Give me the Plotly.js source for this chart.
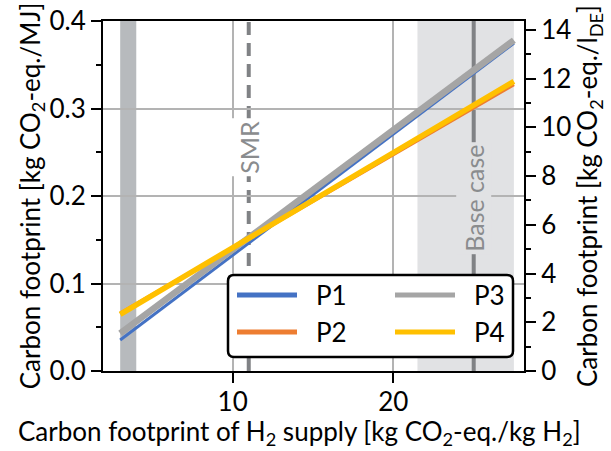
<!DOCTYPE html>
<html>
<head>
<meta charset="utf-8">
<script src="https://cdn.plot.ly/plotly-3.0.1.min.js"></script>
<style>html,body{margin:0;padding:0;background:#fff;}#chart{width:611px;height:451px;}</style>
</head>
<body>
<div id="chart"></div>
<script>
// ---- data ----
const h2Supply = [3, 27.5];                 // kg CO2-eq./kg H2
const seriesNames = ['P1', 'P2', 'P3', 'P4'];
const p1 = [0.0354, 0.3745];                // kg CO2-eq./MJ
const p2 = [0.066, 0.3275];
const p3 = [0.043, 0.378];
const p4 = [0.0648, 0.331];
const seriesColors = ['#4472C4', '#ED7D31', '#A5A5A5', '#FFC000'];
const seriesWidths = [3, 3.5, 6.5, 5.5];
const smrValue = 11;
const baseCaseValue = 25;
const lowBand = [3, 4];
const baseBand = [21.5, 27.5];
const mjPerLitreDiesel = 35.9;
const xTicks = [10, 20];
const yTicks = [0, 0.1, 0.2, 0.3, 0.4];
const y2Ticks = [0, 2, 4, 6, 8, 10, 12, 14];
const xTitle = 'Carbon footprint of H<sub>2</sub> supply [kg CO<sub>2</sub>-eq./kg H<sub>2</sub>]';
const yTitle = 'Carbon footprint [kg CO<sub>2</sub>-eq./MJ]';
const y2Title = 'Carbon footprint [kg CO<sub>2</sub>-eq./l<sub>DE</sub>]';

const yMax = 0.4;
const FONT = 'Lato, "Open Sans", sans-serif';
const FS = 26;

const allSeries = [p1, p2, p3, p4];
const traces = allSeries.map((s, i) => ({
  type: 'scatter', mode: 'lines', x: h2Supply, y: s, name: seriesNames[i],
  line: {color: seriesColors[i], width: seriesWidths[i]}, showlegend: false, hoverinfo: 'skip'
}));
traces.push({type: 'scatter', mode: 'lines', x: h2Supply, y: p1.map(v => v * mjPerLitreDiesel),
  yaxis: 'y2', line: {width: 0, color: 'rgba(0,0,0,0)'}, showlegend: false, hoverinfo: 'skip'});

// legend (manual, two columns: P1,P3 / P2,P4)
const L = {x0: 228, x1: 513, y0: 275, y1: 357};
const plotL = 103, plotR = 524, plotT = 21, plotB = 371;
const px = v => (v - plotL) / (plotR - plotL);
const py = v => (plotB - v) / (plotB - plotT);
const rx = 6 / (plotR - plotL), ry = 6 / (plotB - plotT);
const bx0 = px(L.x0), bx1 = px(L.x1), by0 = py(L.y1), by1 = py(L.y0);
const boxPath = `M${bx0 + rx},${by0} L${bx1 - rx},${by0} Q${bx1},${by0} ${bx1},${by0 + ry} L${bx1},${by1 - ry} Q${bx1},${by1} ${bx1 - rx},${by1} L${bx0 + rx},${by1} Q${bx0},${by1} ${bx0},${by1 - ry} L${bx0},${by0 + ry} Q${bx0},${by0} ${bx0 + rx},${by0} Z`;

const legendOrder = [0, 2, 1, 3];
const legendPos = [
  {lx0: 237, lx1: 297, tx: 314, y: 295},
  {lx0: 395, lx1: 455, tx: 472, y: 295},
  {lx0: 237, lx1: 297, tx: 314, y: 332},
  {lx0: 395, lx1: 455, tx: 472, y: 332}
];

const shapes = [
  {type: 'rect', xref: 'x', yref: 'paper', x0: lowBand[0], x1: lowBand[1], y0: 0, y1: 1,
   fillcolor: '#b7babd', line: {width: 0}, layer: 'below'},
  {type: 'rect', xref: 'x', yref: 'paper', x0: baseBand[0], x1: baseBand[1], y0: 0, y1: 1,
   fillcolor: '#e1e2e4', line: {width: 0}, layer: 'below'},
  {type: 'line', xref: 'x', yref: 'paper', x0: smrValue, x1: smrValue, y0: 0, y1: 1,
   line: {color: '#808285', width: 4, dash: '13px,8px'}, layer: 'between'},
  {type: 'line', xref: 'x', yref: 'paper', x0: baseCaseValue, x1: baseCaseValue, y0: 0, y1: 1,
   line: {color: '#808285', width: 4}, layer: 'between'},
  {type: 'path', xref: 'paper', yref: 'paper', path: boxPath, fillcolor: '#ffffff',
   line: {color: '#000000', width: 2.5}, layer: 'above'}
];
const annotations = [
  {xref: 'x', yref: 'paper', x: smrValue, y: py(147), text: 'SMR', showarrow: false, textangle: -90,
   font: {family: FONT, size: 25, color: '#8a8c8e'}, bgcolor: '#ffffff', borderpad: 2},
  {xref: 'x', yref: 'paper', x: baseCaseValue, y: py(198), text: 'Base case', showarrow: false, textangle: -90,
   font: {family: FONT, size: 25, color: '#8a8c8e'}, bgcolor: '#e1e2e4', borderpad: 2},
  {xref: 'paper', yref: 'paper', x: px(299), y: py(433), xanchor: 'center', yanchor: 'middle',
   text: xTitle, showarrow: false, font: {family: FONT, size: FS, color: '#000'}}
];
legendOrder.forEach((si, k) => {
  const p = legendPos[k];
  shapes.push({type: 'line', xref: 'paper', yref: 'paper', x0: px(p.lx0), x1: px(p.lx1), y0: py(p.y), y1: py(p.y),
    line: {color: seriesColors[si], width: 5}, layer: 'above'});
  annotations.push({xref: 'paper', yref: 'paper', x: px(p.tx), y: py(p.y), xanchor: 'left', yanchor: 'middle',
    text: seriesNames[si], showarrow: false, font: {family: FONT, size: FS, color: '#000'}});
});

const axisCommon = {
  ticks: 'outside', ticklen: 10, tickwidth: 2, tickcolor: '#000',
  showline: true, linewidth: 2, linecolor: '#000', zeroline: false,
  tickfont: {family: FONT, size: FS, color: '#000'}
};

const layout = {
  width: 611, height: 451,
  margin: {l: 103, r: 87, t: 21, b: 80},
  paper_bgcolor: '#fff', plot_bgcolor: '#fff',
  font: {family: FONT, size: FS, color: '#000'},
  showlegend: false,
  xaxis: Object.assign({}, axisCommon, {
    range: [1.93, 28.13], tickvals: xTicks, mirror: true, ticklabelstandoff: -3,
    showgrid: true, gridcolor: '#b3b3b3', gridwidth: 2
  }),
  yaxis: Object.assign({}, axisCommon, {
    range: [0, yMax], tickvals: yTicks, tickformat: '.1f',
    showgrid: true, gridcolor: '#b3b3b3', gridwidth: 2,
    minor: {dtick: 0.05, ticks: 'outside', ticklen: 5, tickwidth: 2, tickcolor: '#000', showgrid: false},
    title: {text: yTitle, font: {family: FONT, size: FS}, standoff: 0}
  }),
  yaxis2: Object.assign({}, axisCommon, {
    overlaying: 'y', side: 'right', anchor: 'x',
    range: [0, yMax * mjPerLitreDiesel], tickvals: y2Ticks, showgrid: false,
    minor: {dtick: 1, ticks: 'outside', ticklen: 5, tickwidth: 2, tickcolor: '#000', showgrid: false},
    title: {text: y2Title, font: {family: FONT, size: FS}, standoff: 8}
  }),
  shapes: shapes,
  annotations: annotations
};

Plotly.newPlot('chart', traces, layout, {staticPlot: true, displayModeBar: false});
</script>
</body>
</html>
